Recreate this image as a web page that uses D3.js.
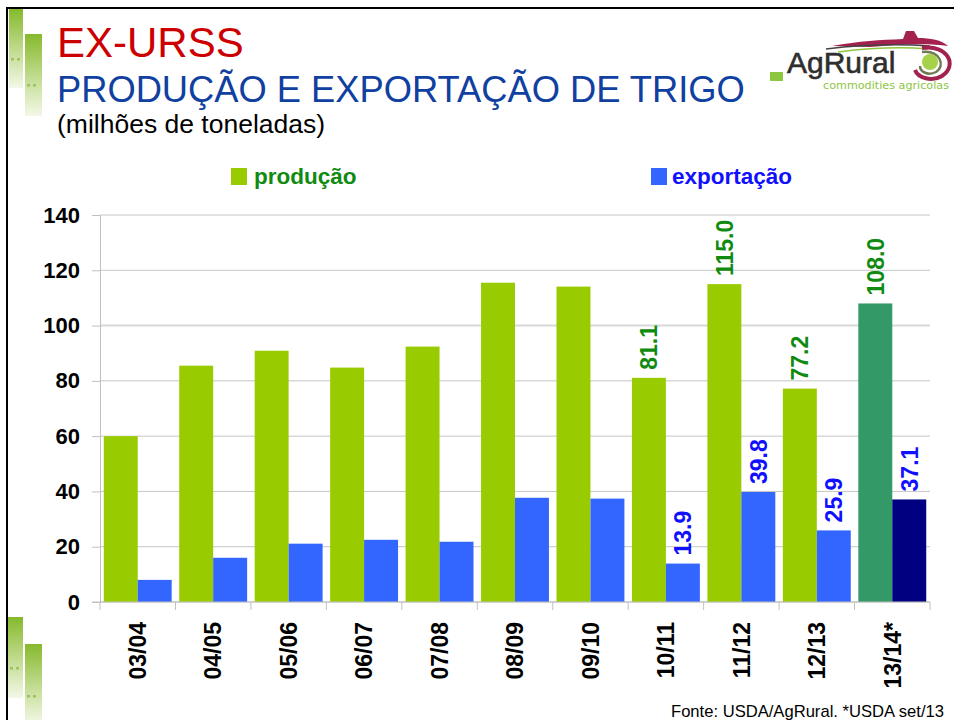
<!DOCTYPE html>
<html>
<head>
<meta charset="utf-8">
<title>Ex-URSS - produção e exportação de trigo</title>
<script src="https://cdn.jsdelivr.net/npm/d3@7"></script>
<style>
  body { margin: 0; background: #fff; }
  svg { display: block; font-family: "Liberation Sans", Arial, sans-serif; }
</style>
</head>
<body>
<div id="visualization"><svg></svg></div>
<script>
/* Chart data (milhões de toneladas) */
const categories = ["03/04", "04/05", "05/06", "06/07", "07/08", "08/09", "09/10", "10/11", "11/12", "12/13", "13/14*"];
const producao = [60.0, 85.5, 90.9, 84.8, 92.4, 115.5, 114.1, 81.1, 115.0, 77.2, 108.0];
const exportacao = [8.0, 16.0, 21.1, 22.5, 21.8, 37.7, 37.4, 13.9, 39.8, 25.9, 37.1];
const yTicks = [0, 20, 40, 60, 80, 100, 120, 140];
// only the last seasons carry a value label
const labeledCategories = ["10/11", "11/12", "12/13", "13/14*"];
// USDA projection, drawn in darker colours
const projectionCategory = "13/14*";

const seriesNames = ["produção", "exportação"];

const width = 954;
const height = 720;

const svg = d3.select("#visualization").select("svg")
  .attr("width", width)
  .attr("height", height);

drawDecorations();
drawLogo();
drawTitles();
drawChart();

/* Drawing/rendering logic */

function drawChart() {
  const plot = { left: 100, right: 930, top: 215, bottom: 602 };

  const x = d3.scaleBand()
    .domain(categories)
    .range([plot.left, plot.right])
    .paddingInner(0.1)
    .paddingOuter(0.05);

  const inner = d3.scaleBand()
    .domain(seriesNames)
    .range([0, x.bandwidth()]);

  const y = d3.scaleLinear()
    .domain([0, 140])
    .range([plot.bottom, plot.top]);

  const colors = {
    "produção": "#99cc00",
    "exportação": "#3366ff"
  };
  const projectionColors = {
    "produção": "#339966",
    "exportação": "#000080"
  };
  const labelColors = {
    "produção": "#108a10",
    "exportação": "#1010ff"
  };

  // gridlines
  svg.append("g")
    .selectAll("line")
    .data(yTicks)
    .join("line")
    .attr("x1", plot.left)
    .attr("x2", plot.right)
    .attr("y1", d => y(d))
    .attr("y2", d => y(d))
    .attr("stroke", d => (d === 100 ? "#d8d8d8" : "#c6c6c6"))
    .attr("stroke-width", d => (d === 100 ? 2 : 1));

  // y axis
  const yAxis = svg.append("g")
    .attr("transform", `translate(${plot.left},0)`)
    .call(d3.axisLeft(y).tickValues(yTicks).tickSize(8).tickPadding(12));
  yAxis.select(".domain").attr("stroke", "#c0c0c0");
  yAxis.selectAll(".tick line").attr("stroke", "#c0c0c0");
  yAxis.selectAll(".tick text")
    .attr("font-size", 22)
    .attr("font-weight", "bold")
    .attr("font-family", "'Liberation Sans', Arial, sans-serif")
    .attr("fill", "#000");

  // flatten the data to one record per bar
  const bars = [];
  categories.forEach((c, i) => {
    bars.push({ category: c, series: "produção", value: producao[i] });
    bars.push({ category: c, series: "exportação", value: exportacao[i] });
  });

  svg.append("g")
    .selectAll("rect")
    .data(bars)
    .join("rect")
    .attr("x", d => x(d.category) + inner(d.series))
    .attr("y", d => y(d.value))
    .attr("width", inner.bandwidth())
    .attr("height", d => y(0) - y(d.value))
    .attr("fill", d => (d.category === projectionCategory ? projectionColors : colors)[d.series]);

  // value labels, rotated
  svg.append("g")
    .selectAll("text")
    .data(bars.filter(d => labeledCategories.includes(d.category)))
    .join("text")
    .attr("transform", d => `translate(${x(d.category) + inner(d.series) + inner.bandwidth() / 2},${y(d.value) - 8}) rotate(-90)`)
    .attr("dy", "0.36em")
    .attr("font-size", 23)
    .attr("font-weight", "bold")
    .attr("fill", d => labelColors[d.series])
    .text(d => d.value.toFixed(1));

  // x axis: labels at the centre, ticks on the category boundaries
  const xAxis = svg.append("g")
    .attr("transform", `translate(0,${plot.bottom})`)
    .call(d3.axisBottom(x).tickSize(0).tickSizeOuter(0));
  xAxis.select(".domain").remove();
  xAxis.selectAll(".tick text")
    .attr("transform", "rotate(-90)")
    .attr("x", -20)
    .attr("y", 0)
    .attr("dy", "0.36em")
    .attr("text-anchor", "end")
    .attr("font-size", 23)
    .attr("font-weight", "bold")
    .attr("font-family", "'Liberation Sans', Arial, sans-serif")
    .attr("fill", "#000");

  svg.append("line")
    .attr("x1", plot.left - 8)
    .attr("x2", plot.right)
    .attr("y1", plot.bottom)
    .attr("y2", plot.bottom)
    .attr("stroke", "#c0c0c0");

  const boundaries = categories.map(c => x(c) - x.step() * x.paddingOuter());
  boundaries.push(plot.right);
  svg.append("g")
    .selectAll("line")
    .data(boundaries)
    .join("line")
    .attr("x1", d => d)
    .attr("x2", d => d)
    .attr("y1", plot.bottom)
    .attr("y2", plot.bottom + 8)
    .attr("stroke", "#c0c0c0");

  // legend
  const legend = svg.append("g")
    .selectAll("g")
    .data(seriesNames)
    .join("g")
    .attr("transform", (d, i) => `translate(${i === 0 ? 231 : 651},168)`);
  legend.append("rect")
    .attr("width", 16)
    .attr("height", 17)
    .attr("fill", d => colors[d]);
  legend.append("text")
    .attr("x", (d, i) => (i === 0 ? 23 : 21))
    .attr("y", 16)
    .attr("font-size", 22.5)
    .attr("font-weight", "bold")
    .attr("fill", d => labelColors[d])
    .text(d => d);

  // source note
  svg.append("text")
    .attr("x", 944)
    .attr("y", 717)
    .attr("text-anchor", "end")
    .attr("font-size", 16.6)
    .attr("fill", "#000")
    .text("Fonte: USDA/AgRural. *USDA set/13");
}

function drawTitles() {
  svg.append("text")
    .attr("x", 57)
    .attr("y", 57)
    .attr("font-size", 42)
    .attr("fill", "#cc0000")
    .text("EX-URSS");
  svg.append("text")
    .attr("x", 57)
    .attr("y", 102)
    .attr("font-size", 36.3)
    .attr("fill", "#1040a0")
    .text("PRODUÇÃO E EXPORTAÇÃO DE TRIGO");
  svg.append("text")
    .attr("x", 57)
    .attr("y", 133)
    .attr("font-size", 26.5)
    .attr("fill", "#000")
    .text("(milhões de toneladas)");
}

/**
 * Slide frame and the green gradient strips on the left edge.
 */
function drawDecorations() {
  const defs = svg.append("defs");
  const grad = defs.append("linearGradient")
    .attr("id", "strip")
    .attr("x1", 0).attr("y1", 0)
    .attr("x2", 0).attr("y2", 1);
  grad.append("stop").attr("offset", "0%").attr("stop-color", "#86b92c");
  grad.append("stop").attr("offset", "55%").attr("stop-color", "#c4dd94");
  grad.append("stop").attr("offset", "100%").attr("stop-color", "#f3f8e8");

  const strips = [
    { x: 9, y: 9, w: 14, h: 79, dot: 58 },
    { x: 25, y: 34, w: 17, h: 82, dot: 84 },
    { x: 8, y: 617, w: 15, h: 81, dot: 667 },
    { x: 25, y: 644, w: 17, h: 80, dot: 695 }
  ];
  const g = svg.append("g");
  g.selectAll("rect")
    .data(strips)
    .join("rect")
    .attr("x", d => d.x)
    .attr("y", d => d.y)
    .attr("width", d => d.w)
    .attr("height", d => d.h)
    .attr("fill", "url(#strip)");
  // small dotted marks on the strips
  strips.forEach(d => {
    [2, 8].forEach(dx => {
      g.append("rect")
        .attr("x", d.x + dx)
        .attr("y", d.dot)
        .attr("width", 3)
        .attr("height", 2.5)
        .attr("fill", "#9cc45c");
    });
  });

  // frame
  svg.append("path")
    .attr("d", `M7,${height} L7,8 L${width},8`)
    .attr("fill", "none")
    .attr("stroke", "#000")
    .attr("stroke-width", 2);
}

function drawLogo() {
  const g = svg.append("g");
  // swooshes
  g.append("path")
    .attr("d", "M832,46 C860,41 880,40 903,39 L906,31 L914,31 L918,38 C930,38 942,40 948,46 C930,43 900,44 870,47 Z")
    .attr("fill", "#a3214f");
  g.append("path")
    .attr("d", "M826,49 C860,45 900,44 930,46")
    .attr("fill", "none")
    .attr("stroke", "#444")
    .attr("stroke-width", 1.5);
  g.append("path")
    .attr("d", "M838,52 C870,48 905,47 928,49")
    .attr("fill", "none")
    .attr("stroke", "#8dc63f")
    .attr("stroke-width", 1.5);
  g.append("path")
    .attr("d", "M922,48 C948,44 958,66 942,76 C932,82 918,78 915,70")
    .attr("fill", "none")
    .attr("stroke", "#a3214f")
    .attr("stroke-width", 4);
  g.append("path")
    .attr("d", "M922,52 C940,50 946,66 936,72 C928,76 920,72 920,66")
    .attr("fill", "none")
    .attr("stroke", "#6f7a55")
    .attr("stroke-width", 2.5);
  g.append("circle")
    .attr("cx", 930)
    .attr("cy", 62)
    .attr("r", 8)
    .attr("fill", "#a6d14a");

  g.append("rect")
    .attr("x", 770)
    .attr("y", 72)
    .attr("width", 13)
    .attr("height", 9)
    .attr("fill", "#8dc63f");
  g.append("text")
    .attr("x", 787)
    .attr("y", 73)
    .attr("font-size", 30)
    .attr("fill", "#2e2e2e")
    .attr("stroke", "#2e2e2e")
    .attr("stroke-width", 0.6)
    .text("AgRural");
  g.append("text")
    .attr("x", 823)
    .attr("y", 89)
    .attr("font-size", 10)
    .attr("font-family", "'DejaVu Sans', sans-serif")
    .attr("textLength", 126)
    .attr("lengthAdjust", "spacingAndGlyphs")
    .attr("fill", "#8dc63f")
    .text("commodities agricolas");
}
</script>
</body>
</html>
